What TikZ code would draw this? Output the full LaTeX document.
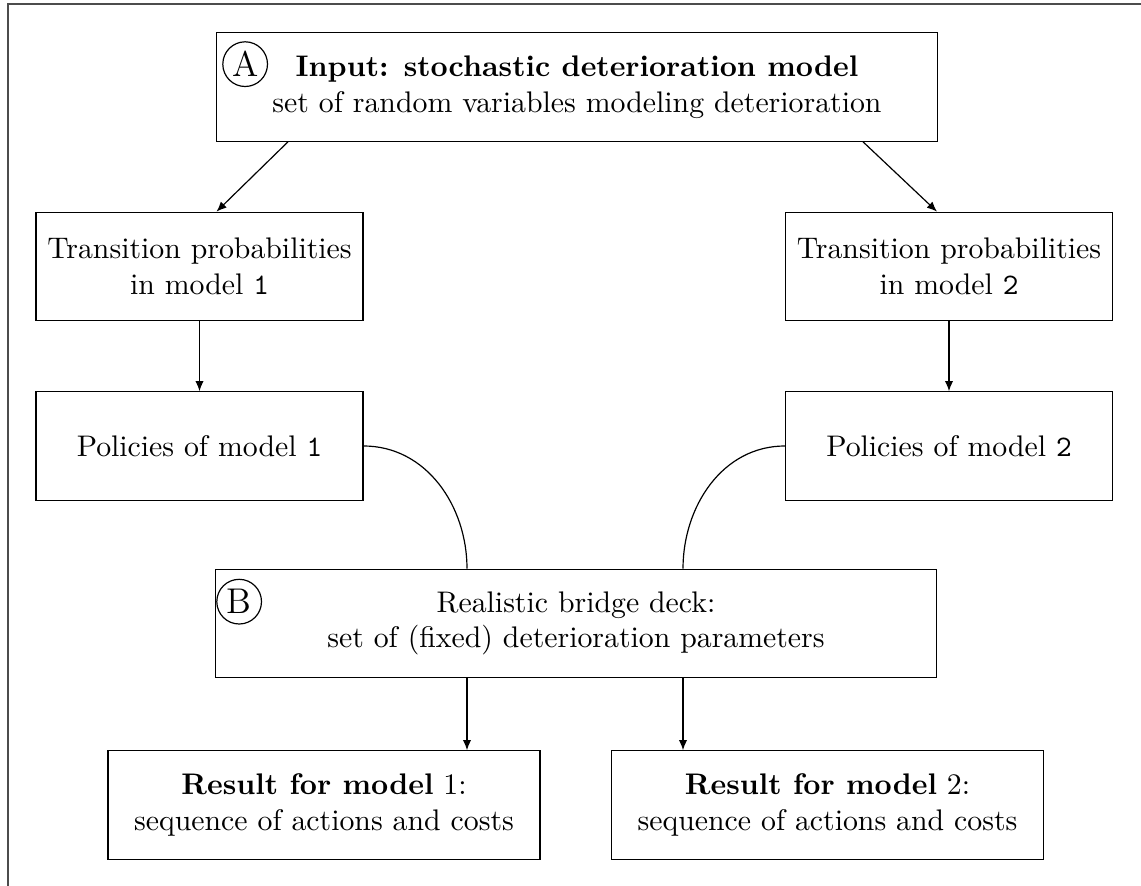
\documentclass[tikz,border=0pt]{standalone}
\usepackage{amsmath}
\usetikzlibrary{calc, arrows.meta}

\begin{document}
\begin{tikzpicture}[x=0.3356pt, y=0.3356pt,
  blk/.style={draw, rectangle, align=center, minimum height=36.4pt, inner sep=2pt},
  bigbox/.style={blk, minimum width=241.8pt},
  midbox/.style={blk, minimum width=109.7pt},
  resbox/.style={blk, minimum width=145pt},
  letter/.style={draw, circle, inner sep=0pt, minimum size=15pt, font=\large},
  arr/.style={-{Latex[length=3.4pt,width=2.8pt]}}]
\useasboundingbox (0,0) rectangle (1141,886);
\draw[black!70] (8,0) -- (8,882) -- (1141,882);

\node[bigbox] (A) at (577,799) {\textbf{Input: stochastic deterioration model}\\set of random variables modeling deterioration};
\node[letter] (tagA) at ($(A.north west)+(29,-32)$) {A};

\node[midbox] (TP1) at (199.5,619.5) {Transition probabilities\\in model \texttt{1}};
\node[midbox] (TP2) at (949,619.5) {Transition probabilities\\in model \texttt{2}};
\node[midbox] (P1) at (199.5,440) {Policies of model \texttt{1}};
\node[midbox] (P2) at (949,440) {Policies of model \texttt{2}};

\node[bigbox] (B) at (576,262.5) {Realistic bridge deck:\\set of (fixed) deterioration parameters};
\node[letter] (tagB) at ($(B.north west)+(24,-33)$) {B};

\node[resbox] (R1) at (324,81) {\textbf{Result for model} $1$:\\sequence of actions and costs};
\node[resbox] (R2) at (827.5,81) {\textbf{Result for model} $2$:\\sequence of actions and costs};

\coordinate (b1) at ($(B.south)+(-109,0)$);
\coordinate (b2) at ($(B.south)+(107,0)$);

\draw[arr] ($(A.south)+(-289,0)$) -- ($(TP1.north)+(17,0)$);
\draw[arr] ($(A.south)+(286,0)$) -- ($(TP2.north)+(-12,0)$);
\draw[arr] (TP1) -- (P1);
\draw[arr] (TP2) -- (P2);
\draw (P1.east) to[out=0, in=90] ($(B.north)+(-109,0)$);
\draw (P2.west) to[out=180, in=90] ($(B.north)+(107,0)$);
\draw[arr] (b1) -- (b1 |- R1.north);
\draw[arr] (b2) -- (b2 |- R2.north);
\end{tikzpicture}
\end{document}
